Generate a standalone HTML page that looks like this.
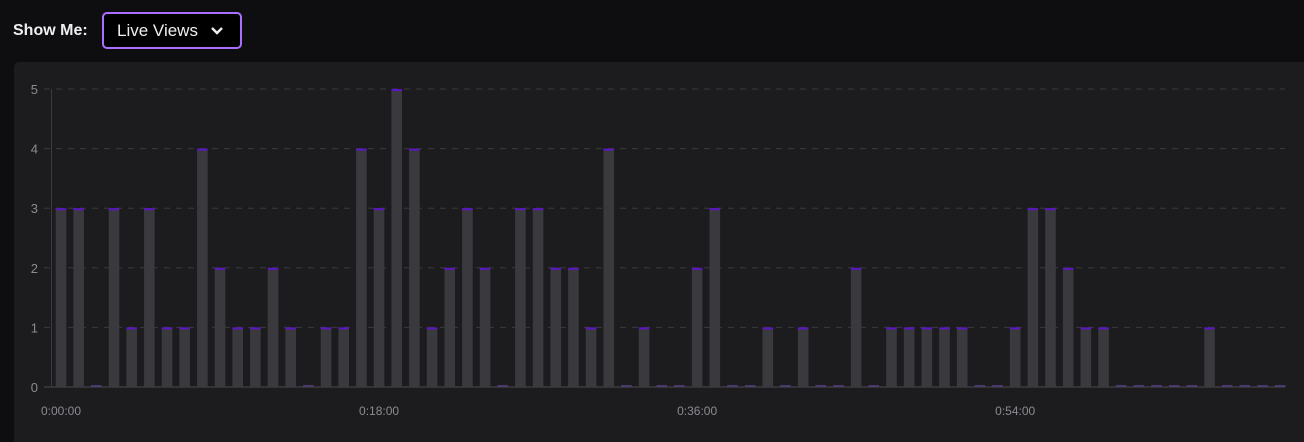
<!DOCTYPE html>
<html><head><meta charset="utf-8"><style>
body{margin:0;width:1304px;height:438px;background:#0e0e10;overflow:hidden;font-family:"Liberation Sans",sans-serif}
#hdr{position:absolute;left:13px;top:12px;height:37px;display:flex;align-items:center}
#lbl{color:#efeff1;font-weight:bold;font-size:16px;width:89px}
#dd{box-sizing:border-box;width:140px;height:37px;border:2px solid #a970ff;border-radius:5px;background:#000;color:#efeff1;font-size:17px;display:flex;align-items:center;padding-left:13px}
#panel{position:absolute;left:14px;top:62px;width:1290px;height:380px;background:#1c1c1f;border-radius:5px 0 0 0}
svg{position:absolute;left:0;top:0}
</style></head><body>
<div id="hdr">
<span id="lbl">Show Me:</span>
<div id="dd">Live Views<svg style="position:static;margin-left:12px" width="14" height="10" viewBox="0 0 14 10"><path d="M2 2 L7 7 L12 2" stroke="#efeff1" stroke-width="2.4" fill="none"/></svg></div>
</div>
<div id="panel"></div>
<svg id="chart" width="1304" height="438"></svg>
<script>
const values=[3,3,0,3,1,3,1,1,4,2,1,1,2,1,0,1,1,4,3,5,4,1,2,3,2,0,3,3,2,2,1,4,0,1,0,0,2,3,0,0,1,0,1,0,0,2,0,1,1,1,1,1,0,0,1,3,3,2,1,1,0,0,0,0,0,1,0,0,0,0];
const yTicks=[0,1,2,3,4,5];
const xLabels=["0:00:00","0:18:00","0:36:00","0:54:00"];
const xLabelIdx=[0,18,36,54];
const NS="http://www.w3.org/2000/svg",svg=document.getElementById('chart');
const y=v=>387-v*59.6, x=i=>61+i*17.67;
function mk(t,a){const e=document.createElementNS(NS,t);for(const k in a)e.setAttribute(k,a[k]);svg.appendChild(e);return e;}
yTicks.forEach(t=>{
 const g=mk('line',{x1:44,x2:1285,y1:y(t),y2:y(t),stroke:t?'#3a3a3f':'#4a4a50','stroke-dasharray':t?'6 6':'none'});
 
 
 const l=mk('text',{x:38,y:y(t)+5,fill:'#8b8b91','font-size':13,'text-anchor':'end','font-family':'Liberation Sans'});l.textContent=t;
 
 
});
const ax=mk('line',{x1:51.5,x2:51.5,y1:y(5),y2:y(0),stroke:'#3a3a3f'});


values.forEach((v,i)=>{
 const cx=x(i);
 if(v>0){const r=mk('rect',{x:cx-5.3,y:y(v),width:10.6,height:y(0)-y(v),fill:'#3a393e'});
 
 }
 const c=mk('rect',{x:cx-5.3,y:y(v)-(v?0:2),width:10.6,height:2,fill:v?'#5c16c5':'#4b3a6e'});
 
 
});
xLabels.forEach((s,k)=>{
 const t=mk('text',{x:x(xLabelIdx[k]),y:415,fill:'#8b8b91','font-size':12,'text-anchor':'middle','font-family':'Liberation Sans'});t.textContent=s;
 
 
});
</script>
</body></html>
